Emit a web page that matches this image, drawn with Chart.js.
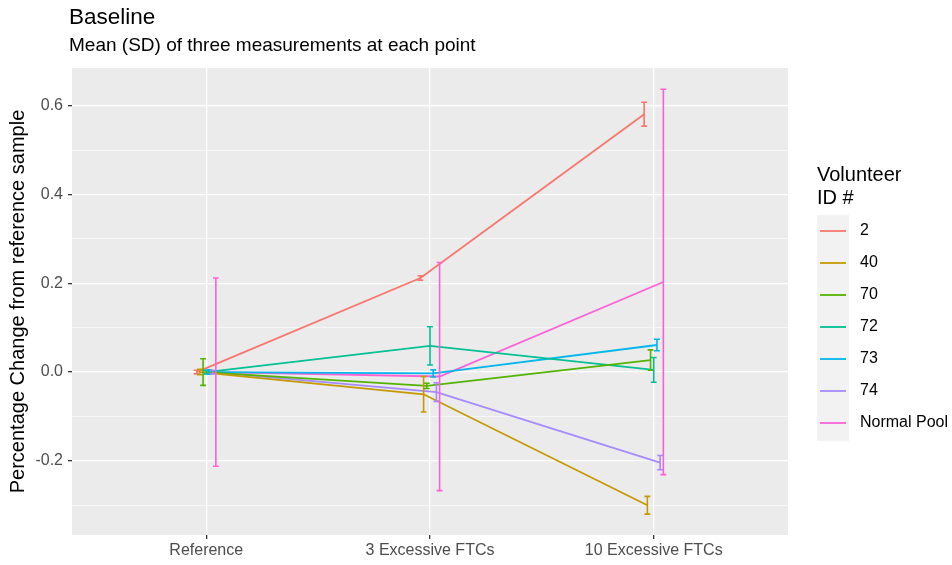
<!DOCTYPE html>
<html>
<head>
<meta charset="utf-8">
<script src="https://cdn.jsdelivr.net/npm/chart.js@4"></script>
<style>
  html, body { margin: 0; padding: 0; background: #fff; }
  #wrap { width: 952px; height: 565px; }
</style>
</head>
<body>
<div id="wrap"><canvas id="chart" width="952" height="565"></canvas></div>
<script>
// ========================== DATA ==========================
const categories = ["Reference", "3 Excessive FTCs", "10 Excessive FTCs"];
const volunteers = ["2", "40", "70", "72", "73", "74", "Normal Pool"];
const colors = ["#F8766D", "#C49A00", "#53B400", "#00C094", "#00B6EB", "#A58AFF", "#FB61D7"];

// mean % change per volunteer, one value per category
const mean2  = [0, 0.212, 0.581];
const mean40 = [0, -0.050, -0.300];
const mean70 = [0, -0.031, 0.027];
const mean72 = [0, 0.059, 0.005];
const mean73 = [0, -0.003, 0.061];
const mean74 = [0, -0.045, -0.204];
const meanNP = [0, -0.010, 0.203];

// SD per volunteer, one value per category
const sd2  = [0.004, 0.005, 0.027];
const sd40 = [0.006, 0.040, 0.020];
const sd70 = [0.030, 0.006, 0.023];
const sd72 = [0.004, 0.043, 0.028];
const sd73 = [0.005, 0.008, 0.013];
const sd74 = [0.004, 0.021, 0.016];
const sdNP = [0.212, 0.257, 0.434];

const yMajorTicks = [-0.2, 0.0, 0.2, 0.4, 0.6];
const yMinorTicks = [-0.3, -0.1, 0.1, 0.3, 0.5];

const means = [mean2, mean40, mean70, mean72, mean73, mean74, meanNP];
const sds = [sd2, sd40, sd70, sd72, sd73, sd74, sdNP];

// ========================== LAYOUT ==========================
const DODGE = 0.1;        // position_dodge width
const CAP = 0.013;        // half width of error bar caps (x units)
const PANEL_BG = "#EBEBEB";
const FONT = "'Liberation Sans', Arial, sans-serif";

const n = volunteers.length;
const dodge = i => (i - (n - 1) / 2) * (DODGE / n);

const datasets = volunteers.map((v, i) => ({
  label: v,
  data: means[i].map((m, c) => ({ x: c + dodge(i), y: m, sd: sds[i][c] })),
  borderColor: colors[i],
  backgroundColor: colors[i],
  borderWidth: 1.8,
  pointRadius: 0,
  pointHoverRadius: 0,
  tension: 0
}));

// ========================== PLUGINS ==========================
const panelBg = {
  id: "panelBg",
  beforeDraw(chart) {
    const { ctx, chartArea: a } = chart;
    ctx.save();
    ctx.fillStyle = PANEL_BG;
    ctx.fillRect(a.left, a.top, a.right - a.left, a.bottom - a.top);
    ctx.restore();
  }
};

const errorBars = {
  id: "errorBars",
  afterDatasetsDraw(chart) {
    const { ctx } = chart;
    const xs = chart.scales.x, ys = chart.scales.y;
    ctx.save();
    chart.data.datasets.forEach(ds => {
      ctx.strokeStyle = ds.borderColor;
      ctx.lineWidth = 1.6;
      ds.data.forEach(p => {
        const x = xs.getPixelForValue(p.x);
        const xl = xs.getPixelForValue(p.x - CAP);
        const xr = xs.getPixelForValue(p.x + CAP);
        const yt = ys.getPixelForValue(p.y + p.sd);
        const yb = ys.getPixelForValue(p.y - p.sd);
        ctx.beginPath();
        ctx.moveTo(x, yt); ctx.lineTo(x, yb);
        ctx.moveTo(xl, yt); ctx.lineTo(xr, yt);
        ctx.moveTo(xl, yb); ctx.lineTo(xr, yb);
        ctx.stroke();
      });
    });
    ctx.restore();
  }
};

const textBits = {
  id: "textBits",
  afterDraw(chart) {
    const { ctx } = chart;
    ctx.save();
    ctx.fillStyle = "#000";
    ctx.textBaseline = "middle";
    ctx.textAlign = "left";
    ctx.font = "22.5px " + FONT;
    ctx.fillText("Baseline", 69, 18);
    ctx.font = "19px " + FONT;
    ctx.fillText("Mean (SD) of three measurements at each point", 69, 46);

    // legend
    ctx.font = "20px " + FONT;
    ctx.fillText("Volunteer", 817, 175);
    ctx.fillText("ID #", 817, 198);
    const top = 215, step = 32;
    ctx.fillStyle = "#F2F2F2";
    ctx.fillRect(817, top, 32, step * n + 2);
    ctx.font = "16px " + FONT;
    chart.data.datasets.forEach((ds, i) => {
      const y = top + 16 + i * step;
      ctx.strokeStyle = ds.borderColor;
      ctx.lineWidth = 1.8;
      ctx.beginPath();
      ctx.moveTo(820, y); ctx.lineTo(846, y);
      ctx.stroke();
      ctx.fillStyle = "#000";
      ctx.fillText(ds.label, 860, y);
    });
    ctx.restore();
  }
};

// ========================== CHART ==========================
const isMajor = v => yMajorTicks.some(t => Math.abs(t - v) < 1e-9);

new Chart(document.getElementById("chart"), {
  type: "line",
  data: { datasets },
  plugins: [panelBg, errorBars, textBits],
  options: {
    responsive: false,
    animation: false,
    layout: { padding: { top: 68, right: 164, bottom: 0, left: 0 } },
    plugins: { legend: { display: false }, tooltip: { enabled: false } },
    scales: {
      x: {
        type: "linear",
        min: -0.6,
        max: 2.6,
        afterBuildTicks: s => { s.ticks = categories.map((c, i) => ({ value: i })); },
        afterFit: s => { s.height = 30; },
        border: { display: false },
        grid: { color: "#FFFFFF", lineWidth: 1.3, tickColor: "#333333", tickLength: 4, drawOnChartArea: true },
        ticks: {
          callback: v => categories[v],
          color: "#4D4D4D",
          font: { size: 16, family: FONT },
          padding: 2,
          maxRotation: 0
        }
      },
      y: {
        min: -0.367,
        max: 0.685,
        afterBuildTicks: s => {
          s.ticks = yMajorTicks.concat(yMinorTicks).sort((a, b) => a - b).map(v => ({ value: v }));
        },
        afterFit: s => { s.width = 72; },
        border: { display: false },
        grid: {
          color: "#FFFFFF",
          lineWidth: c => isMajor(c.tick.value) ? 1.3 : 0.6,
          tickColor: c => isMajor(c.tick.value) ? "#333333" : "rgba(0,0,0,0)",
          tickLength: 4
        },
        ticks: {
          callback: v => isMajor(v) ? v.toFixed(1) : "",
          color: "#4D4D4D",
          font: { size: 16, family: FONT },
          padding: 5
        },
        title: {
          display: true,
          text: "Percentage Change from reference sample",
          color: "#000",
          font: { size: 20, family: FONT },
          padding: { top: 6, bottom: 0 }
        }
      }
    }
  }
});
</script>
</body>
</html>
